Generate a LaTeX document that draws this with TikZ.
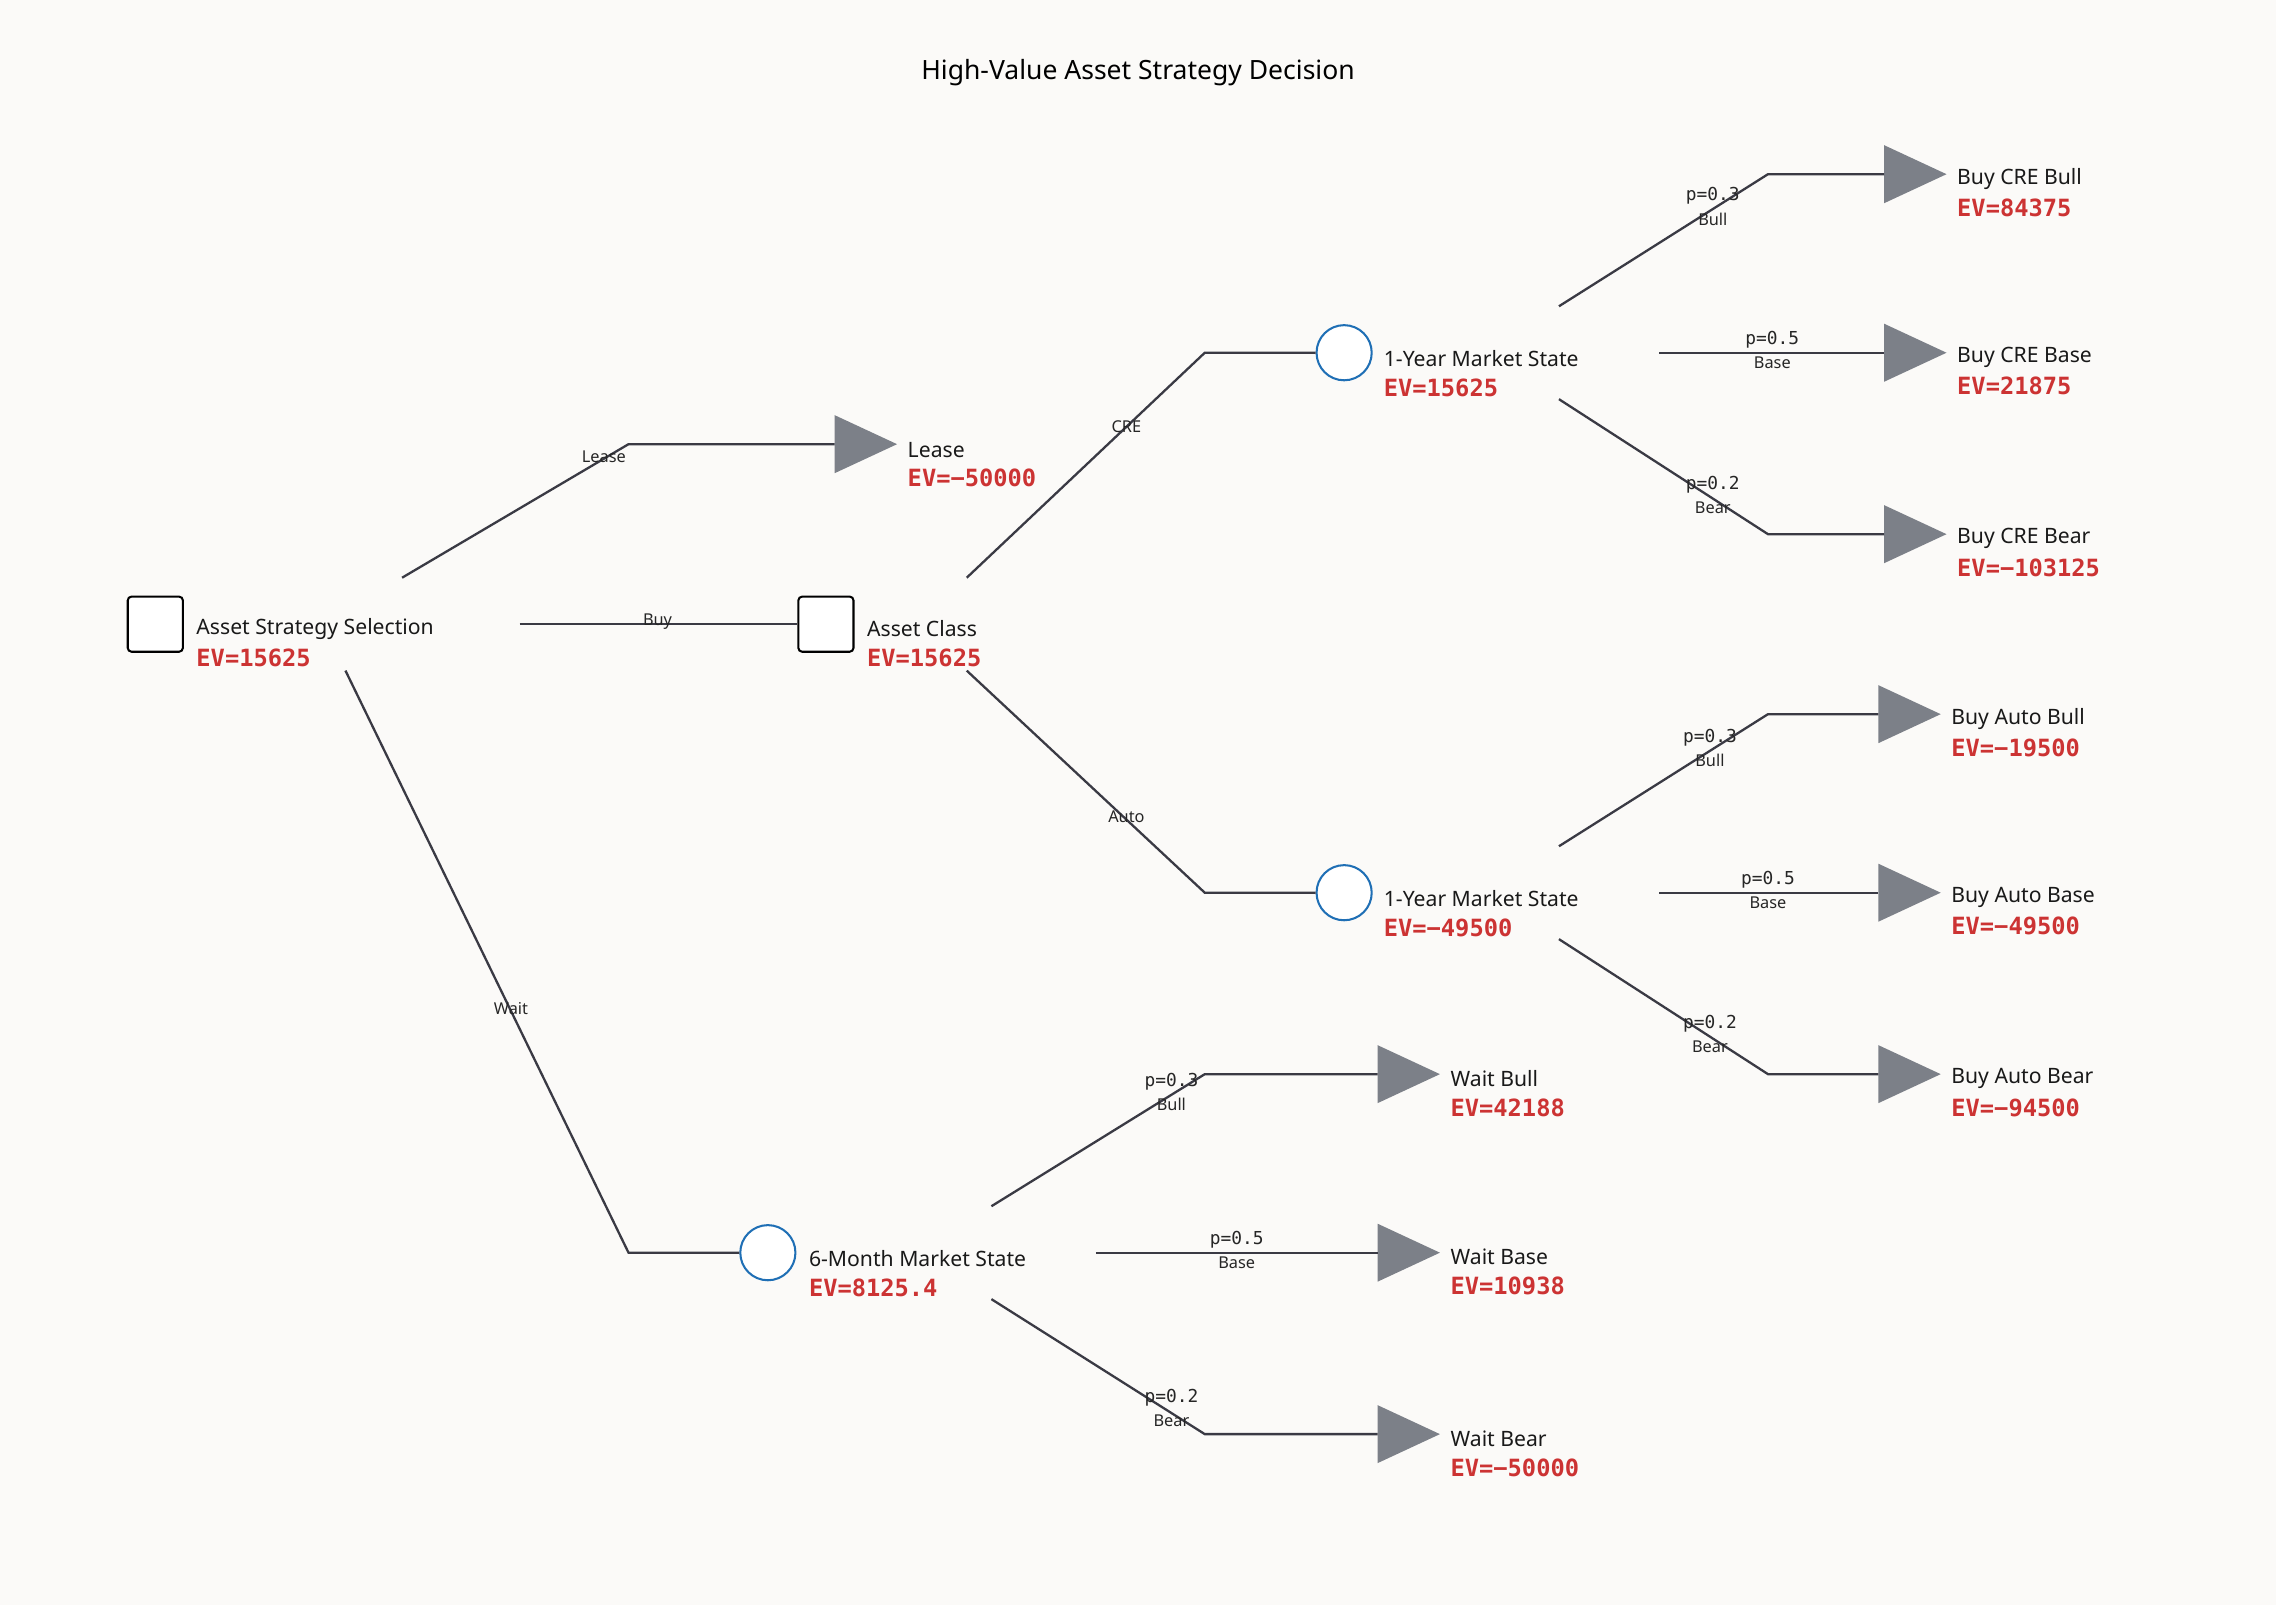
\documentclass[tikz,border=0pt]{standalone}
\usepackage{fontspec}
\setmainfont{Noto Sans}
\newfontfamily\evfont{DejaVu Sans Mono}
\usetikzlibrary{positioning}
\definecolor{bgc}{HTML}{FBFAF8}
\definecolor{edgec}{HTML}{3A3A44}
\definecolor{termc}{HTML}{7C8088}
\definecolor{chancec}{HTML}{1F6FB5}
\definecolor{evc}{HTML}{CC3333}
\tikzset{
  edge/.style={draw=edgec, line width=0.9pt},
  decision/.style={draw=black, fill=white, rounded corners=1.5pt, minimum size=0.76cm, inner sep=0pt, line width=0.8pt},
  chance/.style={circle, draw=chancec, fill=white, minimum size=0.76cm, inner sep=0pt, line width=0.8pt},
  nlabel/.style={anchor=west, inner sep=0pt, font=\fontsize{8.3}{10}\selectfont, text=black!90},
  ev/.style={anchor=west, inner sep=0pt, font=\evfont\bfseries\fontsize{9.3}{11}\selectfont, text=evc},
  elabel/.style={inner sep=0pt, font=\fontsize{6.4}{8}\selectfont, text=black!85},
  plabel/.style={inner sep=0pt, font=\evfont\fontsize{7}{8}\selectfont, text=black!85},
}
\newcommand\termtri[3]{%
  \fill[termc] ({#1},{#2-20}) -- ({#1+43},{#2}) -- ({#1},{#2+20}) -- cycle;
  \coordinate (#3) at ({#1},{#2});}
\newcommand\probl[4]{%
  \node[plabel] at ({#1},{#2}) {#3};
  \node[elabel] at ({#1},{#2+16}) {#4};}
\begin{document}
\begin{tikzpicture}[x=0.02cm, y=-0.02cm]
\fill[bgc] (0,0) rectangle (1568,1106);
\node[font=\bfseries\fontsize{10.4}{12}\selectfont] (title) at (784,50) {High-Value Asset Strategy Decision};

% decision and chance nodes
\node[decision] (root) at (107,430) {};
\node[nlabel] (rootname) at (135,433) {Asset Strategy Selection};
\node[ev] at (135,453) {EV=15625};
\node[decision] (asset) at (569,430) {};
\node[nlabel] (assetname) at (597,433) {Asset Class};
\node[ev] at (597,453) {EV=15625};
\node[chance] (cre) at (926,243) {};
\node[nlabel] (crename) at (953,247) {1-Year Market State};
\node[ev] at (953,267) {EV=15625};
\node[chance] (auto) at (926,615) {};
\node[nlabel] (autoname) at (953,619) {1-Year Market State};
\node[ev] at (953,639) {EV=−49500};
\node[chance] (wait) at (529,863) {};
\node[nlabel] (waitname) at (557,867) {6-Month Market State};
\node[ev] at (557,887) {EV=8125.4};

% terminals
\termtri{575}{306}{tlease}
\node[nlabel] at (625,310) {Lease};
\node[ev] at (625,329) {EV=−50000};
\foreach \y/\nm/\v/\id in {120/Buy CRE Bull/84375/a, 243/Buy CRE Base/21875/b, 368/Buy CRE Bear/−103125/c}{
  \termtri{1298}{\y}{tcre\id}
  \node[nlabel] at (1348,{\y+3}) {\nm};
  \node[ev] at (1348,{\y+23}) {EV=\v};
}
\foreach \y/\nm/\v/\id in {492/Buy Auto Bull/−19500/a, 615/Buy Auto Base/−49500/b, 740/Buy Auto Bear/−94500/c}{
  \termtri{1294}{\y}{tauto\id}
  \node[nlabel] at (1344,{\y+3}) {\nm};
  \node[ev] at (1344,{\y+23}) {EV=\v};
}
\foreach \y/\nm/\v/\id in {740/Wait Bull/42188/a, 863/Wait Base/10938/b, 988/Wait Bear/−50000/c}{
  \termtri{949}{\y}{twait\id}
  \node[nlabel] at (999,{\y+3}) {\nm};
  \node[ev] at (999,{\y+23}) {EV=\v};
}

% connectors
\coordinate (rL) at (277,398);
\coordinate (rB) at (358,430);
\coordinate (rW) at (238,462);
\draw[edge] (rL) -- (433,306) -- (tlease);
\draw[edge] (rB) -- (asset.west);
\draw[edge] (rW) -- (433,863) -- (wait.west);
\node[elabel] at (416,315) {Lease};
\node[elabel] at (453,428) {Buy};
\node[elabel] at (352,695) {Wait};

\coordinate (aC) at (666,398);
\coordinate (aA) at (666,462);
\draw[edge] (aC) -- (830,243) -- (cre.west);
\draw[edge] (aA) -- (830,615) -- (auto.west);
\node[elabel] at (776,294) {CRE};
\node[elabel] at (776,563) {Auto};

\coordinate (cU) at (1074,211);
\coordinate (cM) at (1143,243);
\coordinate (cD) at (1074,275);
\draw[edge] (cU) -- (1218,120) -- (tcrea);
\draw[edge] (cM) -- (tcreb);
\draw[edge] (cD) -- (1218,368) -- (tcrec);
\probl{1180}{135}{p=0.3}{Bull}
\probl{1221}{234}{p=0.5}{Base}
\probl{1180}{334}{p=0.2}{Bear}

\coordinate (uU) at (1074,583);
\coordinate (uM) at (1143,615);
\coordinate (uD) at (1074,647);
\draw[edge] (uU) -- (1218,492) -- (tautoa);
\draw[edge] (uM) -- (tautob);
\draw[edge] (uD) -- (1218,740) -- (tautoc);
\probl{1178}{508}{p=0.3}{Bull}
\probl{1218}{606}{p=0.5}{Base}
\probl{1178}{705}{p=0.2}{Bear}

\coordinate (wU) at (683,831);
\coordinate (wM) at (755,863);
\coordinate (wD) at (683,895);
\draw[edge] (wU) -- (830,740) -- (twaita);
\draw[edge] (wM) -- (twaitb);
\draw[edge] (wD) -- (830,988) -- (twaitc);
\probl{807}{745}{p=0.3}{Bull}
\probl{852}{854}{p=0.5}{Base}
\probl{807}{963}{p=0.2}{Bear}
\end{tikzpicture}
\end{document}
